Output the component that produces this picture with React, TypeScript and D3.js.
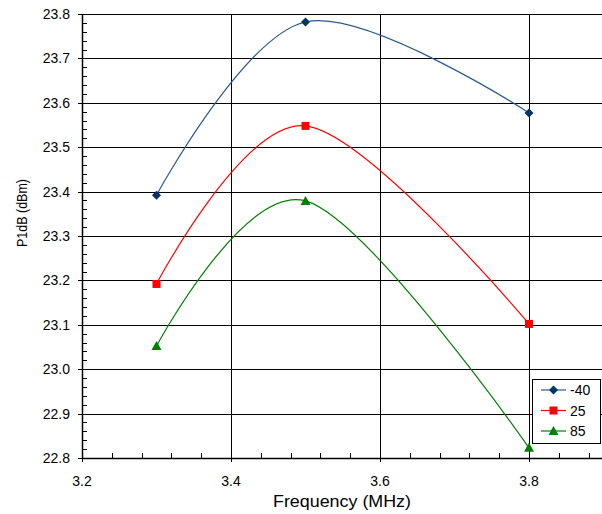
import React from "react";
import * as d3 from "d3";

const frequencies = [3.3, 3.5, 3.8];
const seriesM40 = [23.392, 23.782, 23.577];
const series25 = [23.192, 23.548, 23.102];
const series85 = [23.052, 23.379, 22.823];
const seriesNames = ["-40", "25", "85"];
const xTicks = [3.2, 3.4, 3.6, 3.8];
const yTicks = [22.8, 22.9, 23.0, 23.1, 23.2, 23.3, 23.4, 23.5, 23.6, 23.7, 23.8];

const W = 602, H = 514;
const L = 82, T = 14, B = 458;

export default function App() {
  const x = d3.scaleLinear().domain([3.2, 4.0]).range([L, L + 4 * 149]);
  const y = d3.scaleLinear().domain([22.8, 23.8]).range([B, T]);
  const line = d3
    .line<number>()
    .x((_, i) => x(frequencies[i]))
    .y((d) => y(d))
    .curve(d3.curveCardinal.tension(0));

  const series = [
    { name: seriesNames[0], data: seriesM40, line: "#2A5A8C", marker: "#003366", shape: "diamond" },
    { name: seriesNames[1], data: series25, line: "#FF0000", marker: "#FF0000", shape: "square" },
    { name: seriesNames[2], data: series85, line: "#008000", marker: "#008000", shape: "triangle" },
  ];

  const marker = (shape: string, cx: number, cy: number, color: string, key: any) => {
    if (shape === "diamond") {
      const s = 4.5;
      return <path key={key} d={`M${cx},${cy - s}L${cx + s},${cy}L${cx},${cy + s}L${cx - s},${cy}Z`} fill={color} />;
    }
    if (shape === "square") {
      return <rect key={key} x={cx - 4} y={cy - 4} width={8} height={8} fill={color} />;
    }
    return <path key={key} d={`M${cx},${cy - 5}L${cx + 5},${cy + 4}L${cx - 5},${cy + 4}Z`} fill={color} />;
  };

  const minorY = d3.range(0, 51).map((i) => 22.8 + i * 0.02);
  const minorX = d3.range(0, 21).map((i) => 3.2 + i * 0.04);
  const font = "'Liberation Sans', Arial, sans-serif";

  return (
    <svg width={W} height={H} style={{ position: "absolute", left: 0, top: 0, background: "#fff" }} fontFamily={font}>
      {/* horizontal gridlines */}
      {yTicks.map((t) => (
        <line key={"gy" + t} x1={L - 4} x2={W} y1={Math.round(y(t)) + 0.5} y2={Math.round(y(t)) + 0.5} stroke="#000" strokeWidth={1} />
      ))}
      {/* vertical gridlines */}
      {xTicks.map((t) => (
        <line key={"gx" + t} x1={Math.round(x(t)) + 0.5} x2={Math.round(x(t)) + 0.5} y1={T} y2={B + 4} stroke="#000" strokeWidth={1} />
      ))}
      {/* axes */}
      <line x1={L + 0.5} x2={L + 0.5} y1={T} y2={B} stroke="#000" strokeWidth={1.5} />
      <line x1={L} x2={W} y1={B + 0.5} y2={B + 0.5} stroke="#000" strokeWidth={1.5} />
      {minorY.map((t, i) => (
        <line key={"my" + i} x1={L} x2={L + 5} y1={Math.round(y(t)) + 0.5} y2={Math.round(y(t)) + 0.5} stroke="#000" />
      ))}
      {minorX.map((t, i) => (
        <line key={"mx" + i} x1={Math.round(x(t)) + 0.5} x2={Math.round(x(t)) + 0.5} y1={B - 5} y2={B} stroke="#000" />
      ))}
      {/* tick labels */}
      {yTicks.map((t) => (
        <text key={"ly" + t} x={70} y={y(t) + 5} fontSize={14} textAnchor="end" fill="#000">
          {t.toFixed(1)}
        </text>
      ))}
      {xTicks.map((t) => (
        <text key={"lx" + t} x={x(t)} y={486} fontSize={14} textAnchor="middle" fill="#000">
          {t.toFixed(1)}
        </text>
      ))}
      {/* titles */}
      <text x={342} y={507} fontSize={16} textAnchor="middle" textLength={138} lengthAdjust="spacingAndGlyphs" fill="#000">
        Frequency (MHz)
      </text>
      <text
        transform={`translate(27,213) rotate(-90)`}
        fontSize={14}
        textAnchor="middle"
        textLength={68}
        lengthAdjust="spacingAndGlyphs"
        fill="#000"
      >
        P1dB (dBm)
      </text>
      {/* series */}
      {series.map((s) => (
        <g key={s.name}>
          <path d={line(s.data) || ""} fill="none" stroke={s.line} strokeWidth={1.2} />
          {s.data.map((v, i) => marker(s.shape, x(frequencies[i]), y(v), s.marker, i))}
        </g>
      ))}
      {/* legend */}
      <rect x={532.5} y={379.5} width={68} height={64} fill="#fff" stroke="#000" strokeWidth={1} />
      {series.map((s, i) => {
        const cy = 390 + i * 20.5;
        return (
          <g key={"leg" + s.name}>
            <line x1={541} x2={566} y1={cy} y2={cy} stroke={s.line} strokeWidth={1.2} />
            {marker(s.shape, 553.5, cy, s.marker, "m")}
            <text x={570} y={cy + 5} fontSize={14} fill="#000">
              {s.name}
            </text>
          </g>
        );
      })}
    </svg>
  );
}
